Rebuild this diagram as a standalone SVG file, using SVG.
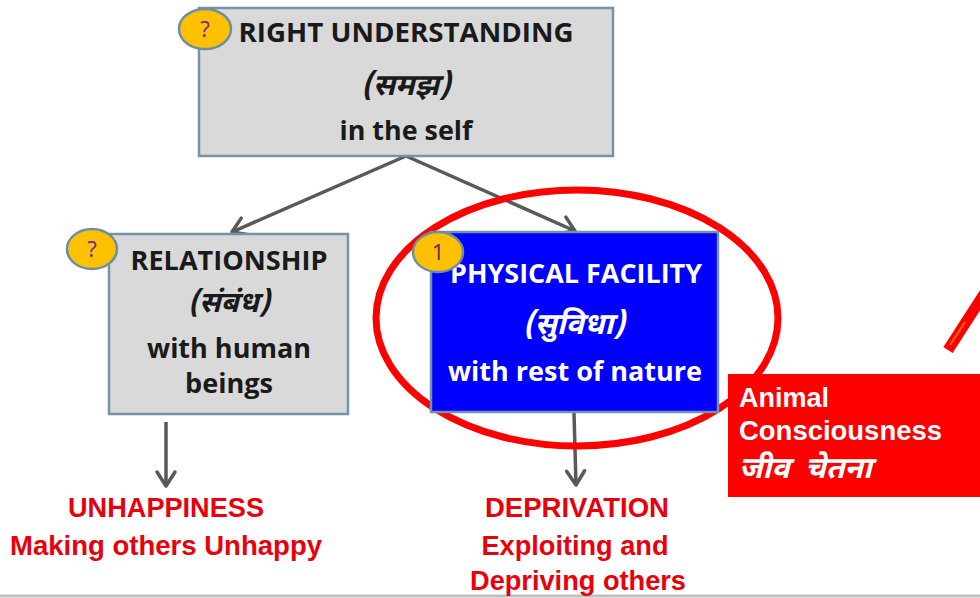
<svg xmlns="http://www.w3.org/2000/svg" width="980" height="598" viewBox="0 0 980 598">
<defs>
<marker id="ah" viewBox="0 0 24 24" refX="20" refY="12" markerWidth="24" markerHeight="24" orient="auto" markerUnits="userSpaceOnUse">
<path d="M6,3 L20,12 L6,21" fill="none" stroke="#595959" stroke-width="3.5" stroke-linecap="round" stroke-linejoin="round"/>
</marker>
</defs>
<style>
.box{stroke:#7393a7;stroke-width:2.5}
.grey{fill:#d9d9d9}
.badge{fill:#ffc000;stroke:#6d8ea3;stroke-width:2.5}
.bt{font-family:"Noto Sans","Liberation Sans",sans-serif;fill:#7030a0;font-size:22px;text-anchor:middle}
.t{font-family:"Open Sans","Noto Sans",sans-serif;font-weight:bold;text-anchor:middle;fill:#1a1a1a}
.hi{font-family:"Noto Sans Devanagari","Noto Sans","Lohit Devanagari",sans-serif;font-weight:bold;font-style:italic;text-anchor:middle}
.w{fill:#ffffff}
.red{font-family:"Liberation Sans Narrow","Liberation Sans",sans-serif;font-weight:bold;fill:#e8000b;text-anchor:middle;font-size:27px}
.conn{stroke:#595959;stroke-width:3.5;fill:none}
</style>
<line x1="0" y1="596" x2="980" y2="596" stroke="#bfbfbf" stroke-width="3"/>
<g id="connectors">
<line class="conn" x1="406" y1="156" x2="232" y2="232" marker-end="url(#ah)"/>
<line class="conn" x1="406" y1="156" x2="575" y2="231" marker-end="url(#ah)"/>
<line class="conn" x1="166" y1="422" x2="166" y2="486" marker-end="url(#ah)"/>
<line class="conn" x1="574" y1="413" x2="576" y2="485" marker-end="url(#ah)"/>
</g>
<g id="right-understanding">
<rect class="box grey" x="199" y="8" width="414" height="148"/>
<text class="t" x="406" y="42" font-size="27" textLength="335" lengthAdjust="spacingAndGlyphs">RIGHT UNDERSTANDING</text>
<text class="hi" x="406" y="95" font-size="30" fill="#1a1a1a">(समझ)</text>
<text class="t" x="406" y="140" font-size="27" textLength="133" lengthAdjust="spacingAndGlyphs">in the self</text>
<ellipse class="badge" cx="205" cy="29" rx="26" ry="20"/>
<text class="bt" x="205" y="37">?</text>
</g>
<g id="relationship">
<rect class="box grey" x="109" y="234" width="239" height="180"/>
<text class="t" x="229" y="270" font-size="26" textLength="197" lengthAdjust="spacingAndGlyphs">RELATIONSHIP</text>
<text class="hi" x="229" y="312" font-size="29" fill="#1a1a1a">(संबंध)</text>
<text class="t" x="229" y="358" font-size="26" textLength="164" lengthAdjust="spacingAndGlyphs">with human</text>
<text class="t" x="229" y="393" font-size="26" textLength="88" lengthAdjust="spacingAndGlyphs">beings</text>
<ellipse class="badge" cx="92" cy="249" rx="25" ry="20"/>
<text class="bt" x="92" y="257">?</text>
</g>
<g id="physical-facility">
<ellipse cx="577" cy="318" rx="201" ry="128" fill="none" stroke="#ff0000" stroke-width="7"/>
<rect class="box" x="431" y="232" width="287" height="180" fill="#0000ff"/>
<text class="t w" x="576" y="283" font-size="26" textLength="252" lengthAdjust="spacingAndGlyphs">PHYSICAL FACILITY</text>
<text class="hi w" x="574" y="334" font-size="30">(सुविधा)</text>
<text class="t w" x="575" y="381" font-size="26" textLength="254" lengthAdjust="spacingAndGlyphs">with rest of nature</text>
<ellipse class="badge" cx="438" cy="252" rx="25" ry="20"/>
<text class="bt" x="438" y="260" style="fill:#6b2a6a">1</text>
</g>
<g id="animal-consciousness">
<line x1="948" y1="350" x2="990" y2="285" stroke="#ff0000" stroke-width="11"/>
<line x1="950" y1="345" x2="965" y2="322" stroke="#ff6a00" stroke-width="2"/>
<rect x="728" y="374" width="260" height="123" fill="#ff0000"/>
<text x="739" y="407" font-family="Liberation Sans, Arial, sans-serif" font-weight="bold" font-size="27" fill="#ffffff">Animal</text>
<text x="739" y="440" font-family="Liberation Sans, Arial, sans-serif" font-weight="bold" font-size="27" fill="#ffffff" textLength="203" lengthAdjust="spacingAndGlyphs">Consciousness</text>
<text x="739" y="478" font-family="Noto Sans Devanagari, Noto Sans, sans-serif" font-weight="bold" font-style="italic" font-size="30" fill="#ffffff" xml:space="preserve">जीव  चेतना</text>
</g>
<g id="unhappiness">
<text class="red" x="166" y="517" textLength="196" lengthAdjust="spacingAndGlyphs">UNHAPPINESS</text>
<text class="red" x="166" y="555" textLength="312" lengthAdjust="spacingAndGlyphs">Making others Unhappy</text>
</g>
<g id="deprivation">
<text class="red" x="577" y="517" textLength="184" lengthAdjust="spacingAndGlyphs">DEPRIVATION</text>
<text class="red" x="575" y="555" textLength="187" lengthAdjust="spacingAndGlyphs">Exploiting and</text>
<text class="red" x="578" y="590" textLength="216" lengthAdjust="spacingAndGlyphs">Depriving others</text>
</g>
</svg>
